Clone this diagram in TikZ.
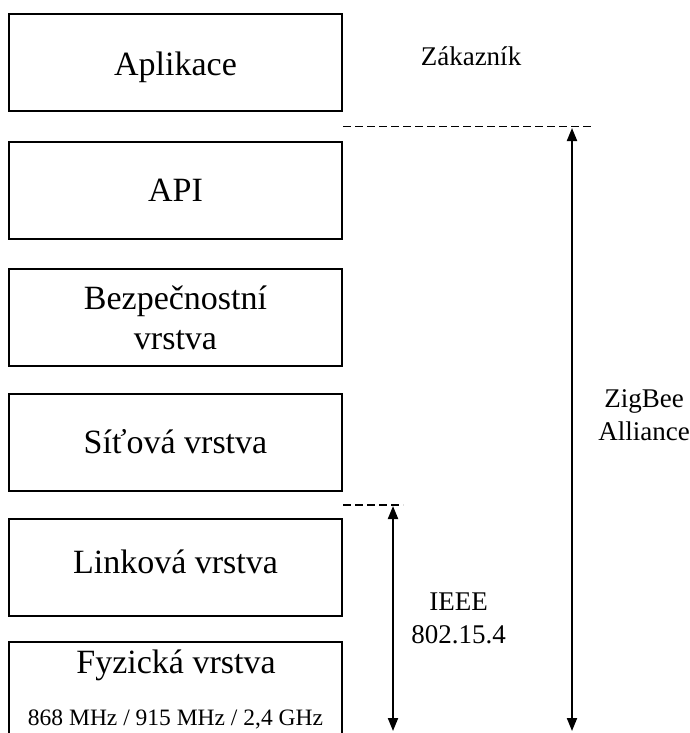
\documentclass[tikz,border=0pt]{standalone}
\usepackage{fontspec}
\setmainfont{Liberation Serif}
\usepackage{tikz}
\usetikzlibrary{arrows.meta}

\begin{document}
\begin{tikzpicture}[x=1pt, y=1pt,
    vrstva/.style={draw, line width=2pt, minimum width=333pt, minimum height=97pt, inner sep=0pt,
        font=\fontsize{34}{40}\selectfont, text height=22pt, text depth=0pt},
    popis/.style={font=\fontsize{27}{33}\selectfont, align=center, inner sep=0pt},
    hranice/.style={line width=1.8pt, dash pattern=on 8pt off 4pt},
    sipka/.style={line width=2pt, {Triangle[length=13pt,width=10pt]}-{Triangle[length=13pt,width=10pt]}}]
        \clip (0,0) rectangle (690,-733);

        % vrstvy
        \node[vrstva, text height=26pt] (apl) at (175.5,-62.5) {Aplikace};
        \node[vrstva] (api) at (175.5,-190) {API};
        \node[vrstva, text height=, text depth=, align=center] (bez) at (175.5,-317.5) {Bezpečnostní\\vrstva};
        \node[vrstva] (sit) at (175.5,-442.5) {Síťová vrstva};
        \node[vrstva, text height=12pt] (lin) at (175.5,-567.5) {Linková vrstva};
        \node[vrstva] (fyz) at (175.5,-690.5) {};
        \node[font=\fontsize{34}{40}\selectfont, anchor=base, inner sep=0pt] (fyztext) at (176,-673) {Fyzická vrstva};
        \node[font=\fontsize{23.5}{28}\selectfont, anchor=base, inner sep=0pt] (pasma) at (175.5,-725) {868 MHz / 915 MHz / 2,4 GHz};

        % popisky
        \node[popis, anchor=base] (zak) at (471,-66) {Zákazník};
        \node[popis] (zig) at (644,-415) {ZigBee\\Alliance};
        \node[popis] (ieee) at (458.5,-618.5) {IEEE\\802.15.4};

        % hranice a sipky
        \coordinate (rez1a) at (343,-126.5);
        \coordinate (rez1b) at (592,-126.5);
        \coordinate (rez2a) at (343,-505);
        \coordinate (rez2b) at (403,-505);
        \coordinate (zbhore) at (572,-128);
        \coordinate (zbdole) at (572,-731);
        \coordinate (iehore) at (393,-506);
        \coordinate (iedole) at (393,-731);

        \draw[hranice] (rez1a) -- (rez1b);
        \draw[hranice] (rez2a) -- (rez2b);
        \draw[sipka] (zbhore) -- (zbdole);
        \draw[sipka] (iehore) -- (iedole);
\end{tikzpicture}
\end{document}
